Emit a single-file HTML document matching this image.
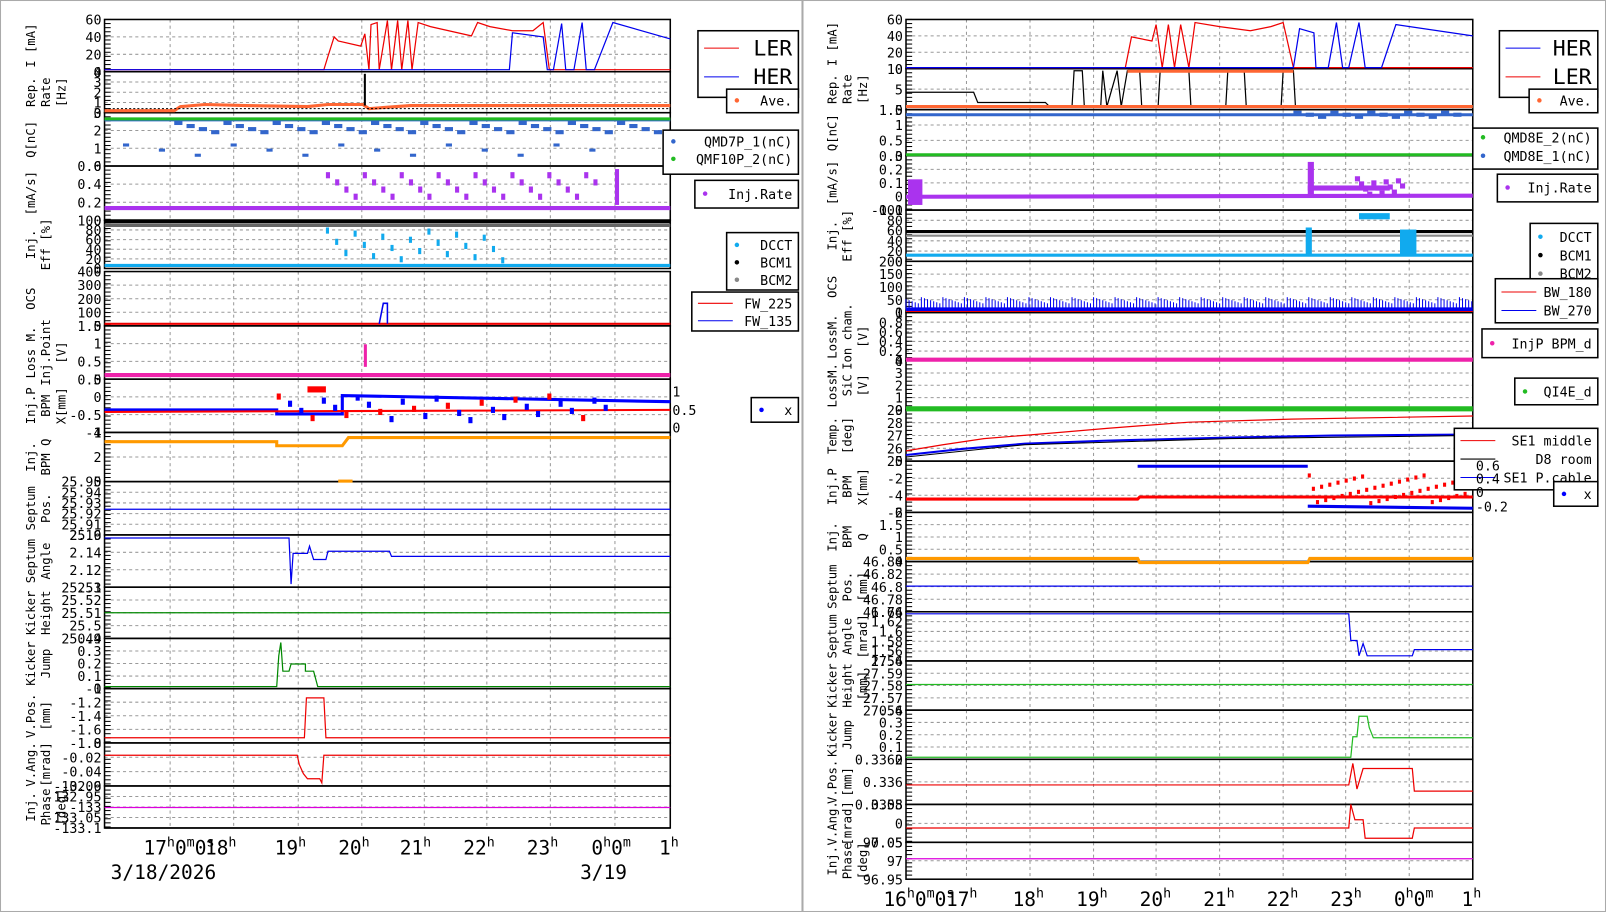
<!DOCTYPE html>
<html><head><meta charset="utf-8"><style>
body{margin:0;background:#fff;width:1606px;height:912px;overflow:hidden}
svg{font-family:"DejaVu Sans Mono","Liberation Mono",monospace;display:block}
</style></head><body>
<svg id="s" width="1606" height="912" viewBox="0 0 1567 890" preserveAspectRatio="none" xmlns="http://www.w3.org/2000/svg">
<rect x="0.5" y="0.5" width="1566" height="889" fill="none" stroke="#aaa"/>
<line x1="783" y1="0" x2="783" y2="890" stroke="#aaa" stroke-width="2"/>
</svg>
<script>
const S=document.getElementById('s');let h='';
function ln(a,b,c,d,col,w,da){h+=`<line x1="${a}" y1="${b}" x2="${c}" y2="${d}" stroke="${col}" stroke-width="${w||1}" ${da?'stroke-dasharray="'+da+'"':''}/>`}
function tx(x,y,t,sz,anc,rot,col){h+=`<text x="${x}" y="${y}" font-size="${sz||14}" text-anchor="${anc||'end'}" fill="${col||'#000'}" ${rot?`transform="rotate(-90 ${x} ${y})"`:''}>${t}</text>`}
function pl(pts,col,w){h+=`<polyline points="${pts}" fill="none" stroke="${col}" stroke-width="${w||1.2}"/>`}
function rc(x,y,w,hh,col){h+=`<rect x="${x}" y="${y}" width="${w}" height="${hh}" fill="${col}"/>`}
function panel(x0,x1,y0,y1,ticks,lab,gx){
 ticks.forEach((t,i)=>{const y=y0+(y1-y0)*i/(ticks.length-1);if(i>0&&i<ticks.length-1)ln(x0,y,x1,y,'#999',1,'3,3');tx(x0-3,y+5,t,13)});
 gx.forEach(x=>ln(x,y0,x,y1,'#999',1,'3,3'));
 for(let y=y0;y<y1;y+=4)ln(x0,y,x0+6,y,'#000',1);
 h+=`<rect x="${x0}" y="${y0}" width="${x1-x0}" height="${y1-y0}" fill="none" stroke="#000" stroke-width="1.5"/>`;
 lab.forEach((l,i)=>tx(x0-68+i*15,(y0+y1)/2,l,12,'middle',1));
}
function box(x,y,w,hh,items){h+=`<rect x="${x}" y="${y}" width="${w}" height="${hh}" fill="#fff" stroke="#000" stroke-width="1.5"/>`;
 items.forEach(it=>{if(it.l)ln(x+6,it.y,x+40,it.y,it.c,1);if(it.d)h+=`<circle cx="${x+10}" cy="${it.y}" r="2.2" fill="${it.c}"/>`;tx(x+w-6,it.y+(it.big?7:5),it.t,it.big?21:13,'end')});}
// LEFT
const LG=[166,228,291,353,414,475,537,600];
const L0=102,L1=654;
const LP=[[19,70,['60','40','20','0'],['I [mA]']],[70,110,['4','3','2','1','0'],['Rep.','Rate','[Hz]']],[110,162,['3','2','1','0'],['Q[nC]']],
[162,215,['0.6','0.4','0.2','0'],['[mA/s]']],[215,262,['100','80','60','40','20','0'],['Inj.','Eff [%]']],[265,318,['400','300','200','100','0'],['OCS']],
[318,370,['1.5','1','0.5','0'],['Loss M.','Inj.Point','[V]']],[370,422,['0.5','0','-0.5','-1'],['Inj.P','BPM','X[mm]']],[422,470,['4','2','0'],['Inj.','BPM Q']],
[470,522,['25.95','25.94','25.93','25.92','25.91','25.9'],['Septum','Pos.']],[522,573,['2.16','2.14','2.12','2.1'],['Septum','Angle']],
[573,623,['25.53','25.52','25.51','25.5','25.49'],['Kicker','Height']],[623,672,['0.4','0.3','0.2','0.1','0'],['Kicker','Jump']],
[672,725,['-1','-1.2','-1.4','-1.6','-1.8'],['V.Pos.','[mm]']],[725,767,['0','-0.02','-0.04','-0.06'],['V.Ang.','[mrad]']],[767,808,['-132.9','-132.95','-133','-133.05','-133.1'],['Inj.','Phase','[deg]']]];
LP.forEach(p=>panel(L0,L1,p[0],p[1],p[2],p[3],LG));
pl('102,68 316,68 320,55 326,36 330,40 352,45 356,33 360,68 362,24 368,22 370,68 378,20 382,68 388,20 392,68 398,20 402,68 408,22 420,26 460,35 466,22 478,26 500,30 520,30 530,22 536,68 654,68','#e00');
pl('102,68 497,68 500,32 530,36 534,68 540,68 548,23 552,68 560,68 568,22 572,68 580,68 598,22 654,38','#00e');
pl('102,108 170,108 176,104 200,102 240,103 300,104 320,102 354,102 360,106 400,103 500,103 654,103','#f63',3);
ln(356,72,356,103,'#000',2);ln(102,106,654,106,'#000',1,'2,2');
pl('102,117 654,117','#36c',3);pl('102,116 654,116','#2b2',3);
for(let i=0;i<40;i++){rc(170+i*12,118+(i%4)*3,8,4,'#36c')}
for(let i=0;i<14;i++){rc(120+i*35,140+(i%3)*5,6,3,'#36c')}
pl('102,203 654,203','#a3e',4);
for(let i=0;i<30;i++){rc(318+i*9,168+(i*7%28),4,6,'#a3e')}rc(600,165,4,35,'#a3e');
pl('102,259 654,259','#1ae',3);ln(102,216,654,216,'#000',4);ln(102,220,654,220,'#666',3);
for(let i=0;i<20;i++){rc(318+i*9,222+(i*11%30),3,6,'#1ae')}
pl('102,316 654,316','#e00',2);pl('370,316 374,296 378,296 378,316','#00e',1.5);
pl('102,366 654,366','#e2a',4);rc(355,336,3,22,'#e2a');
pl('102,400 270,400 270,404 334,404 334,386 654,392','#00f',3);pl('102,402 654,400','#f00',2);
for(let i=0;i<30;i++){rc(270+i*11,384+(i*7%24),4,6,i%3?'#00f':'#f00')}rc(300,377,18,6,'#f00');
pl('102,431 270,431 270,435 334,435 340,427 654,427','#f90',3);rc(330,468,14,3,'#f90');
pl('102,497 654,497','#00e');
pl('102,525 282,525 284,570 286,540 300,540 302,533 306,546 318,546 320,538 380,538 382,543 654,543','#00e');
pl('102,598 654,598','#080');
pl('102,670 270,670 272,640 274,627 276,655 282,655 284,648 290,648 298,648 298,655 306,655 310,670 654,670','#080');
pl('102,720 297,720 299,681 316,681 318,720 654,720','#e00');
pl('102,737 290,737 292,746 296,755 300,760 312,760 314,764 316,737 654,737','#e00');
pl('102,788 654,788','#d0d');
ln(L0,808,L1,808,'#000',1.5);
[['17<tspan dy="-8" font-size="13">h</tspan><tspan dy="8">0</tspan><tspan dy="-8" font-size="13">m</tspan><tspan dy="8">0</tspan><tspan dy="-8" font-size="13">s</tspan>',140],['18<tspan dy="-8" font-size="13">h</tspan>',200],['19<tspan dy="-8" font-size="13">h</tspan>',268],['20<tspan dy="-8" font-size="13">h</tspan>',330],['21<tspan dy="-8" font-size="13">h</tspan>',390],['22<tspan dy="-8" font-size="13">h</tspan>',452],['23<tspan dy="-8" font-size="13">h</tspan>',514],['0<tspan dy="-8" font-size="13">h</tspan><tspan dy="8">0</tspan><tspan dy="-8" font-size="13">m</tspan>',577],['1<tspan dy="-8" font-size="13">h</tspan>',643]].forEach(a=>tx(a[1],834,a[0],19,'start'));
tx(108,858,'3/18/2026',19,'start');tx(566,858,'3/19',19,'start');
box(681,30,98,65,[{y:47,t:'LER',c:'#e00',l:1,big:1},{y:75,t:'HER',c:'#00e',l:1,big:1}]);
box(709,87,70,23,[{y:98,t:'Ave.',c:'#f63',d:1}]);
box(647,127,132,43,[{y:138,t:'QMD7P_1(nC)',c:'#36c',d:1},{y:155,t:'QMF10P_2(nC)',c:'#2b2',d:1}]);
box(678,176,101,27,[{y:189,t:'Inj.Rate',c:'#a3e',d:1}]);
box(709,227,70,56,[{y:239,t:'DCCT',c:'#1ae',d:1},{y:256,t:'BCM1',c:'#000',d:1},{y:273,t:'BCM2',c:'#888',d:1}]);
box(675,285,104,38,[{y:296,t:'FW_225',c:'#e00',l:1},{y:313,t:'FW_135',c:'#00e',l:1}]);
box(733,388,46,24,[{y:400,t:'x',c:'#00f',d:1}]);
tx(656,387,'1',13,'start');tx(656,405,'0.5',13,'start');tx(656,422,'0',13,'start');
// RIGHT
const RG=[943,1005,1067,1128,1190,1252,1313,1375];
const R0=884,R1=1437;
const RP=[[19,67,['60','40','20','0'],['I [mA]']],[67,107,['10','5','0'],['Rep.','Rate','[Hz]']],[107,152,['1.5','1','0.5','0'],['Q[nC]']],
[152,205,['0.3','0.2','0.1','0','-0.1'],['[mA/s]']],[205,255,['100','80','60','40','20','0'],['Inj.','Eff [%]']],[255,305,['200','150','100','50','0'],['OCS']],
[305,352,['1','0.8','0.6','0.4','0.2','0'],['LossM.','Ion cham.','[V]']],[352,400,['4','3','2','1','0'],['LossM.','SiC','[V]']],[400,450,['29','28','27','26','25'],['Temp.','[deg]']],
[450,500,['0','-2','-4','-6'],['Inj.P','BPM','X[mm]']],[500,548,['2','1.5','1','0.5','0'],['Inj.','BPM','Q']],[548,597,['46.84','46.82','46.8','46.78','46.76'],['Septum','Pos.','[mm]']],
[597,645,['1.64','1.62','1.6','1.58','1.56','1.54'],['Septum','Angle','[mrad]']],[645,693,['27.6','27.59','27.58','27.57','27.56'],['Kicker','Height','[mm]']],
[693,741,['0.4','0.3','0.2','0.1','0'],['Kicker','Jump']],[741,785,['0.3362','0.336','0.3358'],['V.Pos.','[mm]']],[785,822,['0.05','0','-0.05'],['V.Ang.','[mrad]']],[822,858,['97.05','97','96.95'],['Inj.','Phase','[deg]']]];
RP.forEach(p=>panel(R0,R1,p[0],p[1],p[2],p[3],RG));
pl('884,66 1098,66 1104,36 1124,40 1128,24 1134,66 1140,24 1146,66 1152,24 1160,66 1166,22 1190,26 1220,30 1240,26 1252,22 1262,66 1437,66','#e00');
pl('884,66 1262,66 1268,28 1282,32 1284,66 1296,66 1304,22 1310,66 1316,66 1326,22 1332,66 1348,66 1362,24 1437,35','#00e');
pl('884,90 950,90 954,100 1020,100 1024,104 1046,104 1048,69 1056,69 1058,104 1074,104 1076,69 1080,104 1090,69 1094,104 1100,69 1112,69 1114,104 1130,104 1132,69 1160,69 1162,104 1196,104 1198,69 1214,69 1216,104 1250,104 1252,69 1262,69 1264,104 1437,104','#000');
pl('884,104 1437,104','#f63',3);rc(1100,68,162,3,'#f63');
pl('884,112 1437,112','#36c',3);for(let i=0;i<14;i++)rc(1262+i*12,108+(i%3)*2,8,4,'#36c');
pl('884,151 1437,151','#2b2',3);
pl('884,192 1437,191','#a3e',4);rc(886,175,14,25,'#a3e');
for(let i=0;i<12;i++)rc(1322+i*4,172+(i*5%16),5,5,'#a3e');rc(1276,158,6,35,'#a3e');rc(1276,181,80,5,'#a3e');
ln(884,226,1437,226,'#000',3);ln(884,230,1437,230,'#888',2);pl('884,249 1437,249','#1ae',3);rc(1274,222,6,26,'#1ae');rc(1366,224,16,24,'#1ae');rc(1326,208,30,6,'#1ae');
pl('884,302 1437,302','#00e',4);for(let x=884;x<1437;x+=3)ln(x,302,x,296-(x*37%7),'#00e',1);
pl('884,304 1437,304','#e00',1);
pl('884,351 1437,351','#e2a',4);pl('884,399 1437,399','#2b2',5);
pl('884,440 920,434 960,428 1010,424 1080,418 1160,412 1260,409 1437,406','#e00');
pl('884,444 940,438 1000,433 1080,430 1200,427 1300,425 1437,424','#00e',2);pl('884,446 1000,434 1200,428 1437,425','#000',1);
pl('884,487 1110,487 1112,485 1437,485','#f00',3);pl('1110,455 1276,455','#00e',3);pl('1276,494 1437,496','#00e',3);
for(let i=0;i<40;i++)rc(1276+i*4,462+(i*13%28),3,4,'#f00');
pl('884,545 1110,545 1112,549 1276,549 1278,545 1437,545','#f90',3);
pl('884,572 1437,572','#00e');
pl('884,599 1316,599 1318,625 1324,625 1326,640 1330,628 1334,640 1378,640 1380,634 1437,634','#00e');
pl('884,668 1437,668','#2b2');
pl('884,739 1318,739 1320,719 1324,719 1326,699 1334,699 1336,710 1340,720 1437,720','#2b2');
pl('884,766 1316,766 1320,745 1324,770 1330,750 1378,750 1380,772 1437,772','#e00');
pl('884,808 1316,808 1318,785 1322,800 1330,800 1332,818 1378,818 1380,808 1437,808','#e00');
pl('884,838 1437,838','#d0d');
[['16<tspan dy="-8" font-size="13">h</tspan><tspan dy="8">0</tspan><tspan dy="-8" font-size="13">m</tspan><tspan dy="8">0</tspan><tspan dy="-8" font-size="13">s</tspan>',862],['17<tspan dy="-8" font-size="13">h</tspan>',923],['18<tspan dy="-8" font-size="13">h</tspan>',988],['19<tspan dy="-8" font-size="13">h</tspan>',1050],['20<tspan dy="-8" font-size="13">h</tspan>',1112],['21<tspan dy="-8" font-size="13">h</tspan>',1174],['22<tspan dy="-8" font-size="13">h</tspan>',1236],['23<tspan dy="-8" font-size="13">h</tspan>',1298],['0<tspan dy="-8" font-size="13">h</tspan><tspan dy="8">0</tspan><tspan dy="-8" font-size="13">m</tspan>',1360],['1<tspan dy="-8" font-size="13">h</tspan>',1426]].forEach(a=>tx(a[1],884,a[0],19,'start'));
box(1463,30,96,65,[{y:47,t:'HER',c:'#00e',l:1,big:1},{y:75,t:'LER',c:'#e00',l:1,big:1}]);
box(1492,87,67,23,[{y:98,t:'Ave.',c:'#f63',d:1}]);
box(1437,125,122,40,[{y:134,t:'QMD8E_2(nC)',c:'#2b2',d:1},{y:152,t:'QMD8E_1(nC)',c:'#36c',d:1}]);
box(1461,170,98,27,[{y:183,t:'Inj.Rate',c:'#a3e',d:1}]);
box(1493,218,66,62,[{y:231,t:'DCCT',c:'#1ae',d:1},{y:249,t:'BCM1',c:'#000',d:1},{y:267,t:'BCM2',c:'#888',d:1}]);
box(1459,272,100,43,[{y:285,t:'BW_180',c:'#e00',l:1},{y:303,t:'BW_270',c:'#00e',l:1}]);
box(1446,321,113,28,[{y:335,t:'InjP BPM_d',c:'#e2a',d:1}]);
box(1478,369,81,26,[{y:382,t:'QI4E_d',c:'#2b2',d:1}]);
box(1419,418,140,60,[{y:430,t:'SE1 middle',c:'#e00',l:1},{y:448,t:'D8 room',c:'#000',l:1},{y:466,t:'SE1 P.cable',c:'#00e',l:1}]);
box(1516,470,43,24,[{y:482,t:'x',c:'#00f',d:1}]);
tx(1440,459,'0.6',13,'start');tx(1440,472,'0.4',13,'start');tx(1440,485,'0',13,'start');tx(1440,499,'-0.2',13,'start');
S.insertAdjacentHTML('beforeend',h);
</script>
</body></html>
